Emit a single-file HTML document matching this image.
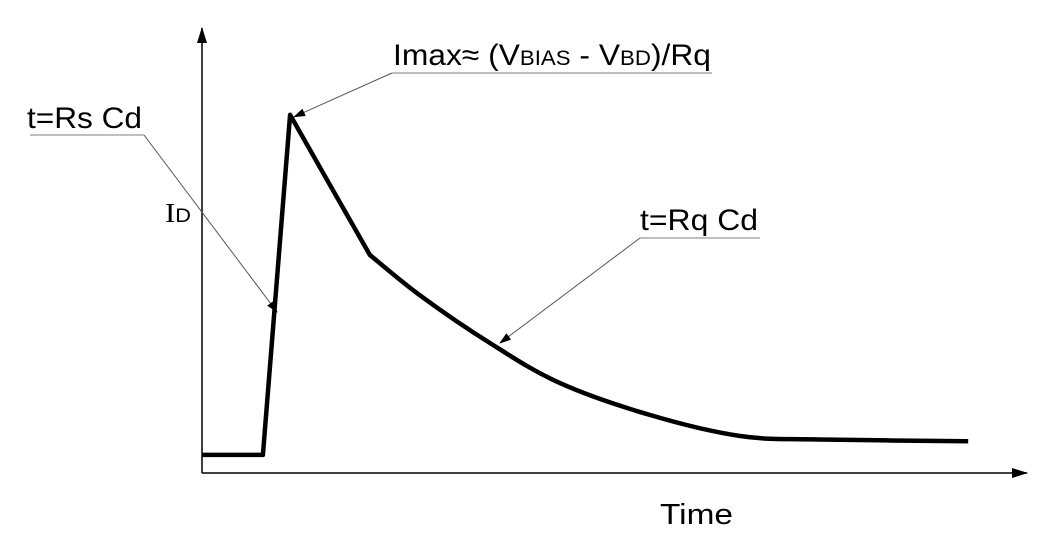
<!DOCTYPE html>
<html><head><meta charset="utf-8"><style>
html,body{margin:0;padding:0;background:#fff}
svg{display:block;font-family:"Liberation Sans","DejaVu Sans",sans-serif}
</style></head><body>
<svg id="chart" width="1053" height="546" viewBox="0 0 1053 546">
<defs>
<marker id="ah" markerWidth="12" markerHeight="8" refX="11" refY="4" orient="auto" markerUnits="userSpaceOnUse"><path d="M0,0 L12,4 L0,8 Z" fill="#000"/></marker>
<marker id="ax" markerWidth="16" markerHeight="10" refX="15" refY="5" orient="auto" markerUnits="userSpaceOnUse"><path d="M0,0 L16,5 L0,10 Z" fill="#000"/></marker>
</defs>
<line x1="202" y1="473" x2="202" y2="28" stroke="#000" stroke-width="1.5" marker-end="url(#ax)"/>
<line x1="202" y1="473" x2="1027" y2="473" stroke="#000" stroke-width="1.5" marker-end="url(#ax)"/>
<text x="165" y="222" font-size="27" textLength="26" lengthAdjust="spacingAndGlyphs" font-family="Liberation Serif, serif">I<tspan font-size="19" font-family="Liberation Sans, sans-serif">D</tspan></text>
<text x="660" y="524" font-size="29" textLength="73" lengthAdjust="spacingAndGlyphs">Time</text>
<g>
<text x="393" y="65" font-size="30" textLength="318" lengthAdjust="spacingAndGlyphs">Imax≈ (V<tspan font-size="21">BIAS</tspan> - V<tspan font-size="21">BD</tspan>)/Rq</text>
<line x1="392" y1="73" x2="712" y2="73" stroke="#999" stroke-width="1.2"/>
<line id="imaxLeader" x1="392" y1="73" x2="294" y2="117" stroke="#555" stroke-width="1" marker-end="url(#ah)"/>
</g>
<g>
<text x="27" y="128" font-size="30" textLength="115" lengthAdjust="spacingAndGlyphs">t=Rs Cd</text>
<line x1="30" y1="135" x2="144" y2="135" stroke="#999" stroke-width="1.2"/>
<line x1="144" y1="135" x2="277" y2="312" stroke="#555" stroke-width="1" marker-end="url(#ah)"/>
</g>
<g>
<text x="640" y="230" font-size="30" textLength="118" lengthAdjust="spacingAndGlyphs">t=Rq Cd</text>
<line x1="640" y1="238" x2="760" y2="238" stroke="#999" stroke-width="1.2"/>
<line x1="640" y1="238" x2="500" y2="343" stroke="#555" stroke-width="1" marker-end="url(#ah)"/>
</g>
<path id="curve" fill="none" stroke="#000" stroke-width="4.5" stroke-linejoin="round"/>
</svg>
<script>
const times=[0,7.4,10.7,14.8,20.4,26.5,35,43.5,54.4,65.4,75,93.1];
const currents=[4.2,4.2,83.3,69.5,50.7,41.3,30.2,20.9,13.5,8.6,7.8,7.4];
const xs=t=>202+t*8.23;
const ys=v=>473-v*4.3;
const P=times.map((t,i)=>[xs(t),ys(currents[i])]);
const f=p=>p.map(v=>v.toFixed(1)).join(',');
let d='M'+f(P[0]);
for(let i=1;i<=4;i++) d+='L'+f(P[i]);
for(let i=4;i<P.length-1;i++){
  const p0=i>4?P[i-1]:P[i],p1=P[i],p2=P[i+1],p3=P[i+2]||p2;
  const c1=[p1[0]+(p2[0]-p0[0])/6,p1[1]+(p2[1]-p0[1])/6];
  const c2=[p2[0]-(p3[0]-p1[0])/6,p2[1]-(p3[1]-p1[1])/6];
  d+='C'+f(c1)+' '+f(c2)+' '+f(p2);
}
document.getElementById('curve').setAttribute('d',d);
const ln=document.getElementById('imaxLeader');
ln.setAttribute('x2',(xs(times[2])+4).toFixed(1));
ln.setAttribute('y2',(ys(currents[2])+2).toFixed(1));
</script>
</body></html>
